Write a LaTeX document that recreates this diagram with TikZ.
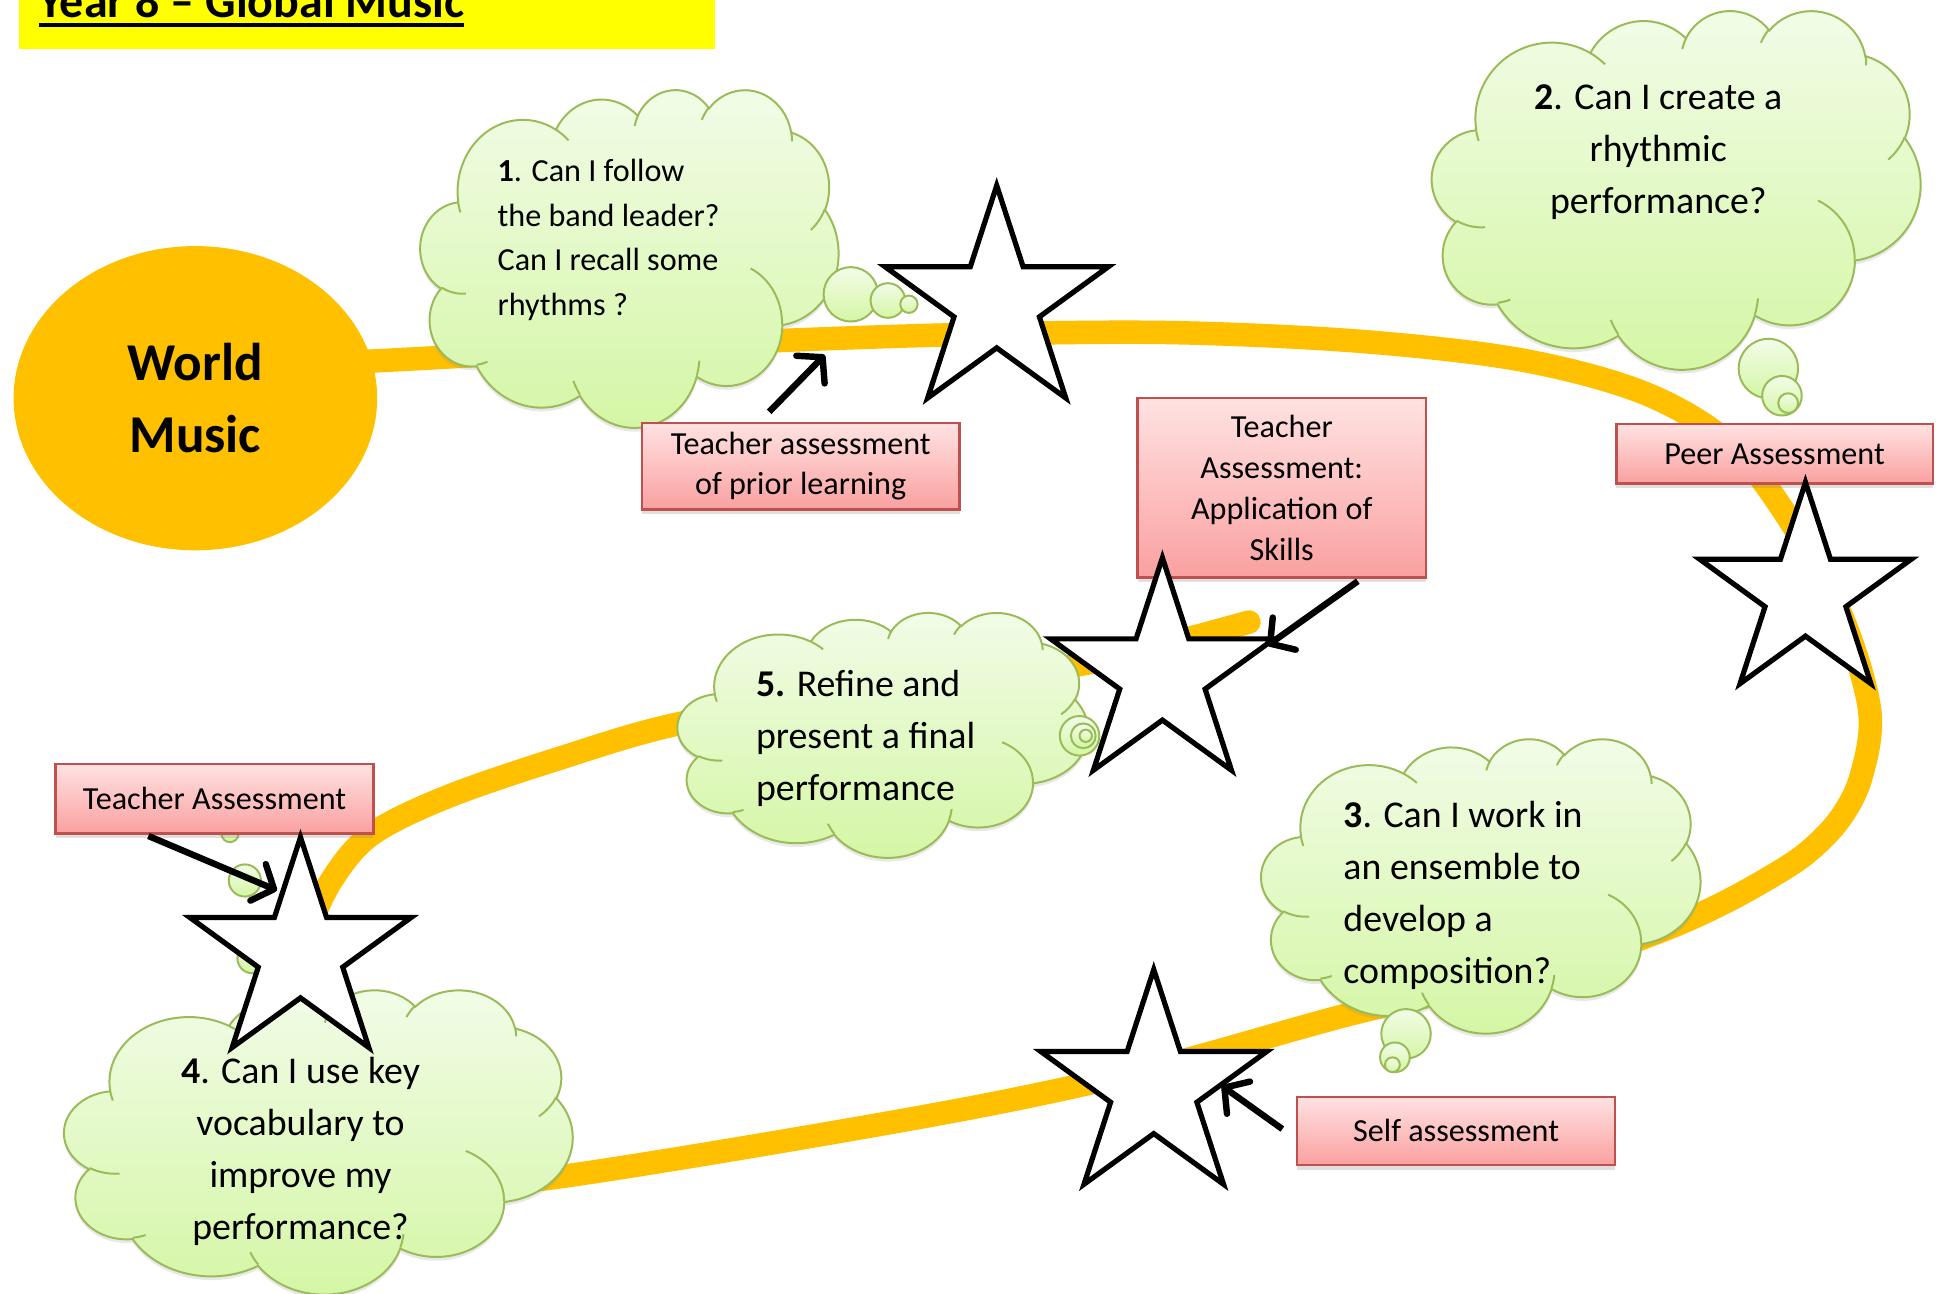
\documentclass[tikz,border=0pt]{standalone}
\usepackage{fontspec}
\setmainfont{Carlito}
\usetikzlibrary{shapes.geometric,arrows.meta,shadows,calc}

\definecolor{orng}{RGB}{255,192,0}
\definecolor{ylw}{RGB}{255,255,0}
\definecolor{cloudtop}{RGB}{242,252,232}
\definecolor{cloudbot}{RGB}{212,246,164}
\definecolor{cloudline}{RGB}{155,187,89}
\definecolor{pinktop}{RGB}{255,226,226}
\definecolor{pinkbot}{RGB}{250,160,160}
\definecolor{pinkline}{RGB}{192,80,77}

\newcommand\ulbox[1]{\vtop{\hbox{#1}\kern2.2pt\hrule height 1.6pt}}
\newcommand\stpt[4]{({#1+#3*cos(#4)},{#2-#3*sin(#4)})}
\newcommand\starat[4]{%
  \coordinate (#1) at (#2,#3);
  \draw[starline] \stpt{#2}{#3}{#4}{90} -- \stpt{#2}{#3}{0.382*#4}{126}
   -- \stpt{#2}{#3}{#4}{162} -- \stpt{#2}{#3}{0.382*#4}{198}
   -- \stpt{#2}{#3}{#4}{234} -- \stpt{#2}{#3}{0.382*#4}{270}
   -- \stpt{#2}{#3}{#4}{306} -- \stpt{#2}{#3}{0.382*#4}{342}
   -- \stpt{#2}{#3}{#4}{18} -- \stpt{#2}{#3}{0.382*#4}{54} -- cycle;
}
% elliptical arc given by a visual start angle and sweep (DrawingML style)
\newcommand\carc[4]{arc[start angle={atan2(#1*sin(#3),#2*cos(#3))}, delta angle={mod(atan2(#1*sin(#3+#4),#2*cos(#3+#4))-atan2(#1*sin(#3),#2*cos(#3))+720,360)}, x radius=#1, y radius=#2]}
\newcommand\officecloud[5]{%
  \coordinate (#1) at ({#2+#4/2},{#3+#5/2});
  \begin{scope}[shift={(#2,#3)}, xscale=#4/432, yscale=#5/432]
    \path[cloudfill] (39.00,143.70) \carc{67.53}{91.90}{-190.49}{123.78}
      \carc{53.33}{72.67}{-144.10}{89.95}
      \carc{43.65}{59.45}{-145.81}{99.72}
      \carc{48.57}{65.95}{-130.99}{117.24}
      \carc{53.33}{72.73}{-78.71}{109.03}
      \carc{67.75}{92.20}{-46.27}{130.27}
      \carc{57.85}{78.67}{0.625}{114.03}
      \carc{67.52}{92.15}{22.45}{115.17}
      \carc{77.20}{105.43}{66.24}{75.71}
      \carc{43.60}{59.18}{-274.94}{146.74}
      \carc{43.45}{59.45}{-246.83}{152.52} -- cycle;
    \draw[cloudline, line width=0.8pt]
      (46.93,261.77) \carc{43.45}{59.45}{86.74}{26.43}
      (69.28,348.99) \carc{43.60}{59.18}{73.61}{11.45}
      (164.78,390.90) \carc{67.52}{92.15}{137.62}{14.08}
      (288.27,347.51) \carc{67.52}{92.15}{6.45}{16.0}
      (341.29,229.54) \carc{57.85}{78.67}{-70.29}{70.92}
      (417.98,153.54) \carc{53.33}{72.73}{30.32}{27.75}
      (383.24,54.26) \carc{48.57}{65.95}{-13.74}{14.86}
      (290.78,39.52) \carc{48.57}{65.95}{-149.18}{18.20}
      (221.41,47.20) \carc{43.65}{59.45}{-163.49}{17.69}
      (140.04,52.02) \carc{67.53}{91.90}{-66.71}{12.32}
      (41.27,157.89) \carc{67.53}{91.90}{156.62}{12.89};
  \end{scope}}

\begin{document}
\begin{tikzpicture}[x=0.5pt,y=-0.5pt,
  trail/.style={orng, line width=9.5pt, line cap=round},
  cloudfill/.style={draw=cloudline, line width=0.8pt, top color=cloudtop, bottom color=cloudbot, drop shadow={shadow xshift=0pt,shadow yshift=-1.5pt,opacity=0.18}},
  bubble/.style={circle, draw=cloudline, line width=0.8pt, top color=cloudtop, bottom color=cloudbot, inner sep=0pt},
  assess/.style={rectangle, draw=pinkline, line width=1pt, top color=pinktop, bottom color=pinkbot, inner sep=0pt, align=center, drop shadow={shadow xshift=0pt,shadow yshift=-2pt,opacity=0.25}},
  boxfont/.style={font=\fontsize{13}{16}\selectfont},
  starline/.style={draw=black, fill=white, line width=2.1pt, line join=miter},
  pointer/.style={black, line width=2.6pt, -{Straight Barb[length=7pt,width=16pt,round]}},
  qsmall/.style={font=\fontsize{13}{18}\selectfont, inner sep=0pt},
  qtext/.style={font=\fontsize{15.3}{21}\selectfont, inner sep=0pt},
]
\useasboundingbox (0,0) rectangle (1568,1046);
\fill[white] (0,0) rectangle (1568,1046);

% title banner
\fill[ylw] (15,-5) rectangle (578,40);
\node[anchor=base west, inner sep=0pt, font=\fontsize{19.4}{22}\selectfont\bfseries] (title) at (31,14) {\ulbox{Year 8 – Global Music}};

% orange trail
\draw[trail] plot[smooth, tension=0.55] coordinates {(200,296) (300,292) (450,284) (640,275) (800,270) (950,269) (1100,276) (1230,291) (1330,318) (1400,360) (1450,425) (1490,500) (1512,575) (1505,628) (1488,662) (1462,689) (1432,709) (1390,732) (1340,754) (1250,785) (1100,818) (940,862) (800,893) (620,925) (450,952) (330,965)};
\draw[trail] plot[smooth, tension=0.55] coordinates {(245,760) (268,712) (300,675) (360,645) (450,614) (550,585) (700,560) (870,538) (1010,503)};

% World Music
\node[ellipse, fill=orng, minimum width=147pt, minimum height=123pt, inner sep=0pt, align=center, font=\fontsize{21.5}{29}\selectfont\bfseries] (world) at (158,322) {World\\Music};

% cloud 1
\officecloud{c1}{340}{72}{338}{273}
\node[bubble, minimum size=22pt] (c1b1) at (688,238) {};
\node[bubble, minimum size=14pt] (c1b2) at (718,243) {};
\node[bubble, minimum size=7pt] (c1b3) at (735,246) {};
\node[qsmall, anchor=west, align=left] (q1) at (402,194) {\textbf{1}. Can I follow\\the band leader?\\Can I recall some\\rhythms ?};

% cloud 2
\officecloud{c2}{1158}{8}{395}{290}
\node[bubble, minimum size=24pt] (c2b1) at (1430,298) {};
\node[bubble, minimum size=16pt] (c2b2) at (1441,320) {};
\node[bubble, minimum size=8pt] (c2b3) at (1446,326) {};
\node[qtext, align=center] (q2) at (1341,123) {\textbf{2}. Can I create a\\rhythmic\\performance?};

% cloud 3
\officecloud{c3}{1020}{597}{355}{238}
\node[bubble, minimum size=20pt] (c3b1) at (1137,836) {};
\node[bubble, minimum size=12pt] (c3b2) at (1128,855) {};
\node[bubble, minimum size=6pt] (c3b3) at (1126,861) {};
\node[qtext, anchor=west, align=left] (q3) at (1086,724) {\textbf{3}. Can I work in\\an ensemble to\\develop a\\composition?};

% cloud 4
\node[bubble, minimum size=7pt] (c4b3) at (186,674) {};
\node[bubble, minimum size=13pt] (c4b2) at (198,712) {};
\node[bubble, minimum size=12pt] (c4b1) at (204,775) {};
\officecloud{c4}{52}{800}{411}{246}
\node[qtext, align=center] (q4) at (243,931) {\textbf{4}. Can I use key\\vocabulary to\\improve my\\performance?};

% cloud 5
\officecloud{c5}{548}{495}{332}{198}
\node[bubble, minimum size=16pt] (c5b1) at (873,595) {};
\node[bubble, minimum size=10pt] (c5b2) at (876,595) {};
\node[bubble, minimum size=5pt] (c5b3) at (878,595) {};
\node[qtext, anchor=west, align=left] (q5) at (611,597) {\textbf{5.} Refine and\\present a final\\performance};

% assessment boxes
\node[assess, boxfont, minimum width=128.5pt, minimum height=35pt] (prior) at (647.5,377) {Teacher assessment\\of prior learning};
\node[assess, font=\fontsize{13}{16.5}\selectfont, minimum width=116.5pt, minimum height=72.5pt] (apply) at (1036.5,394.5) {Teacher\\Assessment:\\Application of\\Skills};
\node[assess, boxfont, minimum width=128pt, minimum height=24pt] (peer) at (1435,367) {Peer Assessment};
\node[assess, boxfont, minimum width=128.5pt, minimum height=28pt] (teach) at (173.5,646) {Teacher Assessment};
\node[assess, boxfont, minimum width=128.5pt, minimum height=27.5pt] (self) at (1177.5,914.5) {Self assessment};

% stars
\starat{s1}{806}{245}{95}
\starat{s2}{1460}{480}{90}
\starat{s3}{940}{546}{95}
\starat{s4}{243}{771}{94}
\starat{s5}{933}{880}{96}

% arrows
\coordinate (a1s) at (622,333); \coordinate (a1e) at (667,287);
\coordinate (a2s) at (1098,470); \coordinate (a2e) at (1025,522);
\coordinate (a3s) at (120,676); \coordinate (a3e) at (224,720);
\coordinate (a4s) at (1037,913); \coordinate (a4e) at (988,878);
\draw[pointer] (a1s) -- (a1e);
\draw[pointer] (a2s) -- (a2e);
\draw[pointer] (a3s) -- (a3e);
\draw[pointer] (a4s) -- (a4e);
\end{tikzpicture}
\end{document}
